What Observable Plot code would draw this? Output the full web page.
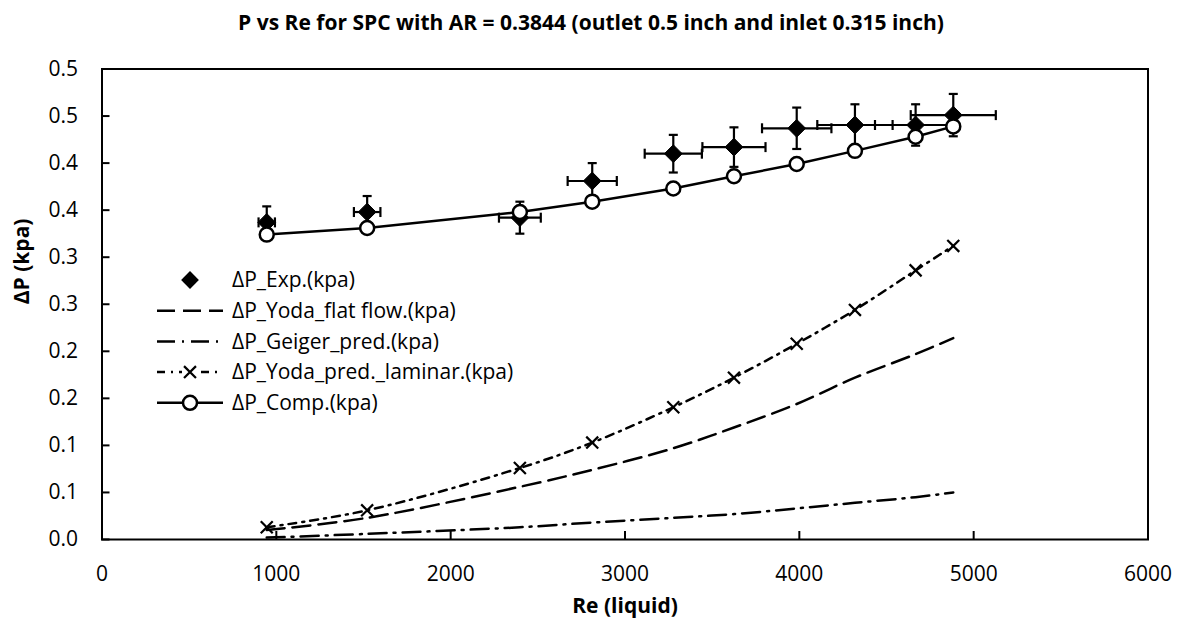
<!DOCTYPE html>
<html><head><meta charset="utf-8">
<script src="https://cdn.jsdelivr.net/npm/d3@7"></script>
<script src="https://cdn.jsdelivr.net/npm/@observablehq/plot@0.6"></script>
<style>
body{margin:0;background:#fff;}
#wrap{position:relative;width:1182px;height:629px;font-family:"Open Sans",sans-serif;}
#title{position:absolute;left:0;width:1182px;top:8px;text-align:center;font-weight:bold;font-size:21px;color:#000;}
#wrap svg{position:absolute;left:0;top:0;}
</style></head><body>
<div id="wrap"><div id="title">P vs Re for SPC with AR = 0.3844 (outlet 0.5 inch and inlet 0.315 inch)</div></div>
<script>
// ---- data ----
const re = [945, 1521, 2397, 2812, 3277, 3625, 3985, 4319, 4667, 4883];
const expDP = [0.337, 0.348, 0.342, 0.381, 0.410, 0.417, 0.437, 0.4405, 0.4405, 0.451];
const expErrY = [0.017, 0.017, 0.017, 0.019, 0.020, 0.021, 0.022, 0.022, 0.022, 0.0225];
const expErrX = [47, 76, 120, 141, 164, 181, 199, 216, 233, 244];
const yodaFlat = [0.010, 0.023, 0.056, 0.074, 0.097, 0.119, 0.144, 0.172, 0.197, 0.214];
const geiger = [0.002, 0.006, 0.013, 0.018, 0.023, 0.027, 0.033, 0.039, 0.045, 0.050];
const yodaLam = [0.013, 0.031, 0.076, 0.103, 0.1405, 0.172, 0.208, 0.244, 0.286, 0.312];
const comp = [0.324, 0.331, 0.348, 0.359, 0.373, 0.386, 0.399, 0.413, 0.428, 0.439];
const xTicks = [0, 1000, 2000, 3000, 4000, 5000, 6000];
const xTickLabels = ["0", "1000", "2000", "3000", "4000", "5000", "6000"];
const yTicks = [0, 0.05, 0.1, 0.15, 0.2, 0.25, 0.3, 0.35, 0.4, 0.45, 0.5];
const yTickLabels = ["0.0", "0.1", "0.1", "0.2", "0.2", "0.3", "0.3", "0.4", "0.4", "0.5", "0.5"];
const seriesNames = ["ΔP_Exp.(kpa)", "ΔP_Yoda_flat flow.(kpa)", "ΔP_Geiger_pred.(kpa)", "ΔP_Yoda_pred._laminar.(kpa)", "ΔP_Comp.(kpa)"];
const xTitle = "Re (liquid)";
const yTitle = "ΔP (kpa)";

// ---- layout ----
const W = 1182, H = 629, mL = 101.5, mR = 34.5, mT = 68.5, mB = 90;
const pw = W - mL - mR, ph = H - mT - mB;
const FONT = '"Open Sans", sans-serif';
const LW = 2.5;
const dashFlat = "18,8", dashGei = "18,7,2,7", dashLam = "8,6,2,6";

const rows = re.map((x, i) => ({x, exp: expDP[i], ey: expErrY[i], ex: expErrX[i],
  flat: yodaFlat[i], gei: geiger[i], lam: yodaLam[i], comp: comp[i]}));

const hcap = {draw(ctx, size) { const r = Math.sqrt(size / Math.PI); ctx.moveTo(-r, 0); ctx.lineTo(r, 0); }};
const vcap = {draw(ctx, size) { const r = Math.sqrt(size / Math.PI); ctx.moveTo(0, -r); ctx.lineTo(0, r); }};

const chart = Plot.plot({
  width: W, height: H, marginLeft: mL, marginRight: mR, marginTop: mT, marginBottom: mB,
  style: {fontFamily: FONT, fontSize: "21px", color: "#000", background: "transparent", overflow: "visible"},
  x: {domain: [0, 6000]},
  y: {domain: [0, 0.5]},
  marks: [
    Plot.axisX(xTicks, {tickSize: 0, tickPadding: 27, fontSize: 21, label: null,
      tickFormat: d => xTickLabels[xTicks.indexOf(d)]}),
    Plot.axisY(yTicks, {tickSize: 0, tickPadding: 24, fontSize: 21, label: null,
      tickFormat: d => yTickLabels[yTicks.indexOf(d)]}),
    Plot.tickX(xTicks, {x: d => d, insetTop: ph - 8, stroke: "black", strokeWidth: 2}),
    Plot.tickY(yTicks, {y: d => d, insetRight: pw - 8, stroke: "black", strokeWidth: 2}),
    Plot.text([xTitle], {frameAnchor: "bottom", dy: 73, fontWeight: "bold", fontSize: 21, text: d => d}),
    Plot.text([yTitle], {frameAnchor: "left", dx: -80, rotate: -90, fontWeight: "bold", fontSize: 21, text: d => d}),
    // prediction curves
    Plot.line(rows, {x: "x", y: "flat", stroke: "black", strokeWidth: LW, strokeDasharray: dashFlat, curve: "catmull-rom"}),
    Plot.line(rows, {x: "x", y: "gei", stroke: "black", strokeWidth: LW, strokeDasharray: dashGei, curve: "catmull-rom"}),
    Plot.line(rows, {x: "x", y: "lam", stroke: "black", strokeWidth: LW, strokeDasharray: dashLam, curve: "catmull-rom"}),
    Plot.dot(rows, {x: "x", y: "lam", symbol: "times", r: 5.5, stroke: "black", strokeWidth: 2.2}),
    // experimental with error bars
    Plot.ruleX(rows, {x: "x", y1: d => d.exp - d.ey, y2: d => d.exp + d.ey, stroke: "black", strokeWidth: 2.2}),
    Plot.ruleY(rows, {y: "exp", x1: d => d.x - d.ex, x2: d => d.x + d.ex, stroke: "black", strokeWidth: 2.2}),
    Plot.dot(rows, {x: "x", y: d => d.exp + d.ey, symbol: hcap, r: 4.5, fill: "none", stroke: "black", strokeWidth: 2.2}),
    Plot.dot(rows, {x: "x", y: d => d.exp - d.ey, symbol: hcap, r: 4.5, fill: "none", stroke: "black", strokeWidth: 2.2}),
    Plot.dot(rows, {x: d => d.x - d.ex, y: "exp", symbol: vcap, r: 5, fill: "none", stroke: "black", strokeWidth: 2.2}),
    Plot.dot(rows, {x: d => d.x + d.ex, y: "exp", symbol: vcap, r: 5, fill: "none", stroke: "black", strokeWidth: 2.2}),
    Plot.dot(rows, {x: "x", y: "exp", symbol: "diamond2", r: 8, fill: "black", stroke: "black", strokeWidth: 1}),
    // computed
    Plot.line(rows, {x: "x", y: "comp", stroke: "black", strokeWidth: LW}),
    Plot.dot(rows, {x: "x", y: "comp", r: 7, fill: "white", stroke: "black", strokeWidth: 2.5}),
    Plot.frame({stroke: "black", strokeWidth: 2})
  ]
});
document.getElementById("wrap").appendChild(chart);

// ---- legend (inside plot area, upper left) ----
const svg = d3.select(chart);
const lg = svg.append("g").attr("font-family", FONT).attr("font-size", 21).attr("text-anchor", "start");
const rowY = [280, 310.7, 341.4, 372.1, 402.8];
const lx0 = 157, lx1 = 223, lmx = 190, ltx = 232;
const styles = [
  {line: null, marker: "diamond"},
  {line: dashFlat, marker: null},
  {line: dashGei, marker: null},
  {line: dashLam, marker: "times"},
  {line: "", marker: "circle"}
];
styles.forEach((s, i) => {
  const y = rowY[i];
  if (s.line !== null) {
    lg.append("line").attr("x1", lx0).attr("x2", lx1).attr("y1", y).attr("y2", y)
      .attr("stroke", "black").attr("stroke-width", LW)
      .attr("stroke-dasharray", s.line || null);
  }
  if (s.marker === "diamond") {
    lg.append("path").attr("d", d3.symbol(d3.symbolDiamond2, Math.PI * 8 * 8)()).attr("transform", `translate(${lmx},${y})`).attr("fill", "black");
  } else if (s.marker === "times") {
    lg.append("rect").attr("x", lmx - 8).attr("y", y - 8).attr("width", 16).attr("height", 16).attr("fill", "white");
    lg.append("path").attr("d", d3.symbol(d3.symbolTimes, Math.PI * 5.5 * 5.5)()).attr("transform", `translate(${lmx},${y})`)
      .attr("fill", "none").attr("stroke", "black").attr("stroke-width", 2.2);
  } else if (s.marker === "circle") {
    lg.append("circle").attr("cx", lmx).attr("cy", y).attr("r", 7).attr("fill", "white").attr("stroke", "black").attr("stroke-width", 2.5);
  }
  lg.append("text").attr("x", ltx).attr("y", y).attr("dy", "0.35em").attr("fill", "black").attr("text-anchor", "start").text(seriesNames[i]);
});
</script>
</body></html>
